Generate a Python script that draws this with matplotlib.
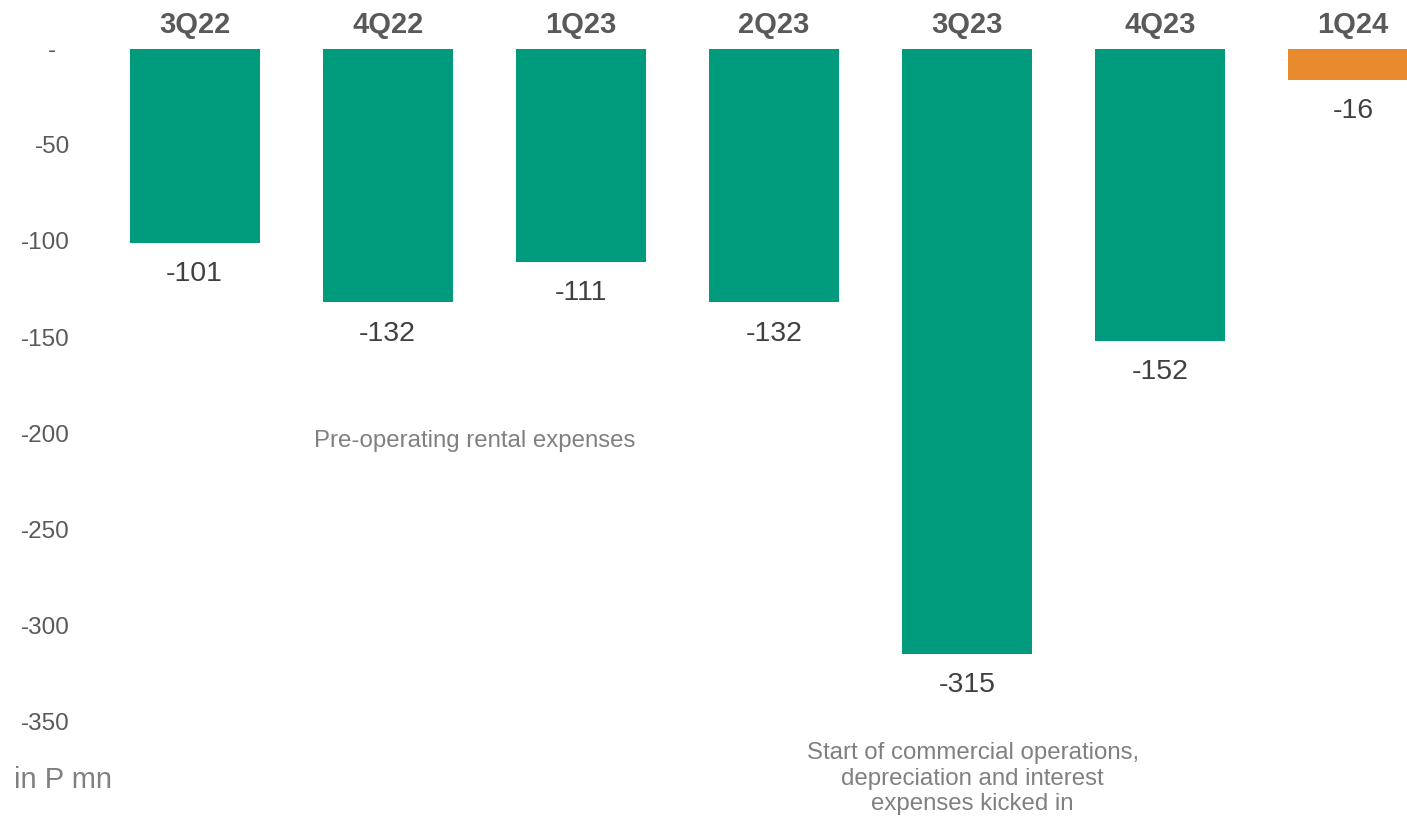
import matplotlib
matplotlib.use("Agg")
import matplotlib.pyplot as plt

plt.rcParams['font.family'] = ['Liberation Sans', 'DejaVu Sans']

# Quarterly net income (loss), in P mn
quarters = ["3Q22", "4Q22", "1Q23", "2Q23", "3Q23", "4Q23", "1Q24"]
values = [-101, -132, -111, -132, -315, -152, -16]
bar_colors = ["#009B7D"] * 6 + ["#E8892E"]

y_ticks = [0, -50, -100, -150, -200, -250, -300, -350]
y_tick_labels = ["-  ", "-50", "-100", "-150", "-200", "-250", "-300", "-350"]

fig = plt.figure(figsize=(14.07, 8.19), dpi=100)
ax = fig.add_axes([0, 0, 1, 1])

x = list(range(len(quarters)))
bars = ax.bar(x, values, width=0.674, color=bar_colors, zorder=2)

ax.set_xlim(-1.008, 6.28)
ax.set_ylim(-401, 25.5)

ax.set_yticks(y_ticks)
ax.set_yticklabels(y_tick_labels, fontsize=17.5, color="#595959")
ax.tick_params(axis="y", length=0, pad=-50.4)
ax.set_xticks([])
for s in ax.spines.values():
    s.set_visible(False)

# Quarter labels along the top
for xi, q in zip(x, quarters):
    ax.text(xi, 12.5, q, ha="center", va="center", fontsize=21,
            fontweight="bold", color="#595959")

# Value labels under each bar
for xi, v in zip(x, values):
    ax.annotate(f"{v}", xy=(xi, v), xytext=(0, -22.5), textcoords="offset points",
                ha="center", va="center", fontsize=20.5, color="#404040")

# Notes
ax.text(1.453, -204, "Pre-operating rental expenses", ha="center", va="center",
        fontsize=17.3, color="#808080")
ax.text(4.03, -380, "Start of commercial operations,\ndepreciation and interest\nexpenses kicked in",
        ha="center", va="center", fontsize=17.3, color="#808080", linespacing=1.22)

fig.text(14 / 1407, 1 - 780 / 819, "in P mn", ha="left", va="center",
         fontsize=21, color="#808080")

fig.savefig("out.png", dpi=100)
